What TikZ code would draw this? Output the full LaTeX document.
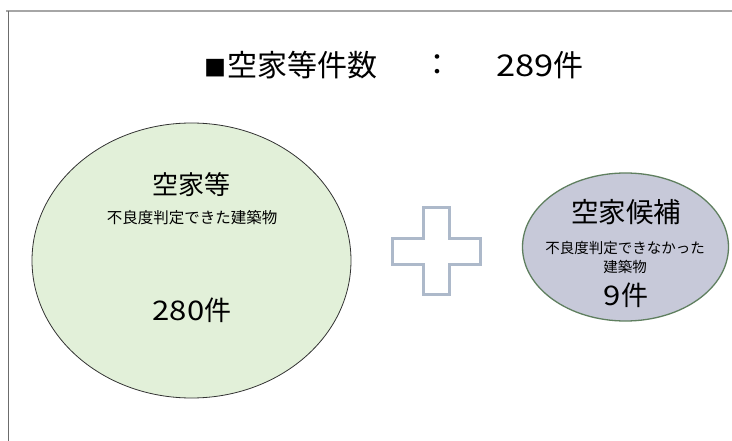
\documentclass[tikz,border=0pt]{standalone}
\usepackage{fontspec}
\usetikzlibrary{shapes.geometric}
\newfontfamily\jp{Noto Sans CJK JP}
\definecolor{greenfill}{HTML}{E2F0D9}
\definecolor{bluefill}{HTML}{C7C9D9}
\definecolor{blueborder}{HTML}{5F7F5F}
\definecolor{plusline}{HTML}{ADB9CA}
\definecolor{frameline}{HTML}{A6A6A6}
\newcommand{\wdig}[1]{\scalebox{1.15}[1]{#1}}
\tikzset{
  txt/.style={inner sep=0pt, font=\jp, text=black},
}
\begin{document}
\begin{tikzpicture}[x=1pt,y=-1pt]
\useasboundingbox (0,0) rectangle (732,441);
% frame
\draw[frameline, line width=2pt] (6,11) -- (732,11);
\draw[gray!85!black, line width=1pt] (8,11) -- (8,441);
% title
\node[txt, anchor=west, font=\jp\fontsize{30}{32}\selectfont] (title) at (204,65) {{\fontsize{22}{24}\selectfont ■}\hspace{1pt}空家等件数};
\node[txt, font=\jp\fontsize{30}{32}\selectfont] (colon) at (437,65) {：};
\node[txt, anchor=west, font=\jp\fontsize{30}{32}\selectfont] (total) at (496,65) {\wdig{289}件};
% big ellipse
\node[draw=black!80, line width=0.8pt, fill=greenfill, ellipse, minimum width=319pt, minimum height=275pt, inner sep=0pt] (big) at (191.5,260.5) {};
\node[txt, font=\jp\fontsize{26}{28}\selectfont] (bigt) at (191,185) {空家等};
\node[txt, font=\jp\fontsize{15.5}{18}\selectfont] (bigs) at (192,218) {不良度判定できた建築物};
\node[txt, font=\jp\fontsize{27}{29}\selectfont] (bign) at (192,310) {\wdig{280}件};
% plus
\draw[plusline, line width=3pt, fill=white, line join=miter]
  (423,208) -- (449,208) -- (449,239) -- (480,239) -- (480,265) -- (449,265) -- (449,295)
  -- (423,295) -- (423,265) -- (392,265) -- (392,239) -- (423,239) -- cycle;
% small ellipse
\node[draw=blueborder, line width=1.3pt, fill=bluefill, ellipse, minimum width=206pt, minimum height=148pt, inner sep=0pt] (small) at (625.5,247) {};
\node[txt, font=\jp\fontsize{27.5}{30}\selectfont] (smallt) at (626,212) {空家候補};
\node[txt, font=\jp\fontsize{14.5}{17}\selectfont] (smalls1) at (625,248) {不良度判定できなかった};
\node[txt, font=\jp\fontsize{14.5}{17}\selectfont] (smalls2) at (625,267) {建築物};
\node[txt, font=\jp\fontsize{27}{30}\selectfont] (smalln) at (626,295) {\wdig{9}件};
\end{tikzpicture}
\end{document}
